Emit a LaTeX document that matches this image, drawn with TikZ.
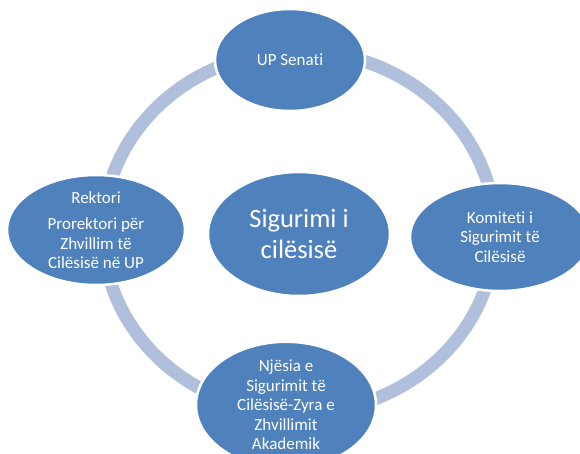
\documentclass[tikz,border=0pt]{standalone}
\usepackage{fontspec}
\setmainfont{Carlito}[Ligatures=NoCommon]
\usetikzlibrary{shapes.geometric}
\definecolor{nodeblue}{HTML}{4F81BD}
\definecolor{ringblue}{HTML}{AFBFDC}
\begin{document}
\begin{tikzpicture}[x=1pt,y=-1pt,
  bubble/.style={ellipse, fill=nodeblue, draw=white, line width=2.5pt, text=white,
    align=center, inner sep=0pt, font=\fontsize{17}{19.4}\selectfont},
  ring/.style={draw=ringblue, line width=13pt}
]
\useasboundingbox (0,0) rectangle (580,453);
\draw[ring] (299,232) ellipse [x radius=196pt, y radius=181pt];
\node[bubble, minimum width=150pt, minimum height=102pt] (senati) at (290,60) {UP Senati};
\node[bubble, minimum width=182pt, minimum height=124pt,
  font=\fontsize{26.5}{30.5}\selectfont] (center) at (299,234) {Sigurimi i\\cilësisë};
\node[bubble, minimum width=178pt, minimum height=110pt] (rektori) at (96,230)
  {Rektori\\[7pt]Prorektori për\\Zhvillim të\\Cilësisë në UP};
\node[bubble, minimum width=180pt, minimum height=108pt] (komiteti) at (500,237)
  {Komiteti i\\Sigurimit të\\Cilësisë};
\node[bubble, minimum width=180pt, minimum height=116pt] (njesia) at (286,405)
  {Njësia e\\Sigurimit të\\Cilësisë-Zyra e\\Zhvillimit\\Akademik};
\end{tikzpicture}
\end{document}
